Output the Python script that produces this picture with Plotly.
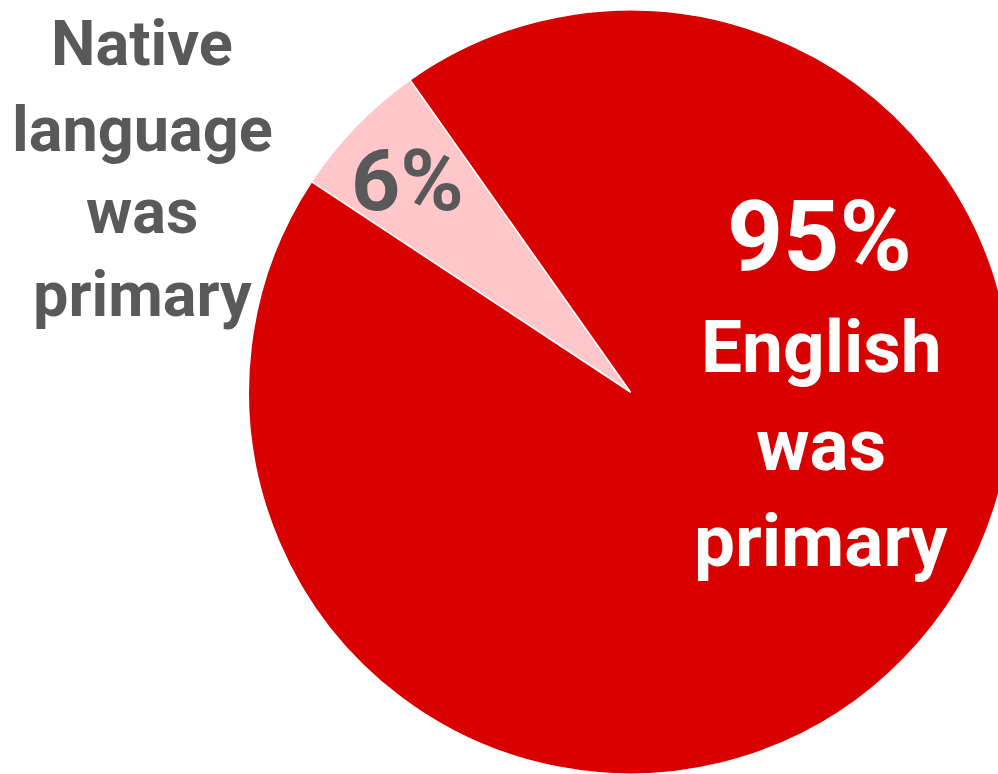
import plotly.graph_objects as go

# Data
categories = ["Native language was primary", "English was primary"]
values = [6, 95]
pct_labels = ["6%", "95%"]
colors = ["#FFC7CA", "#D90000"]

FONT = "Roboto, Liberation Sans, sans-serif"
W, H = 1030, 774

fig = go.Figure(
    go.Pie(
        labels=categories,
        values=values,
        sort=False,
        direction="clockwise",
        rotation=-56.6,
        marker=dict(colors=colors, line=dict(color="white", width=1.5)),
        textinfo="none",
        hoverinfo="label+value",
        showlegend=False,
        domain=dict(x=[0.241, 0.983], y=[0, 1]),
    )
)

def px(x, y):
    return x / W, 1 - y / H

ann = []
# left outside label (gray), one line per row
left_lines = ["Native", "language", "was", "primary"]
left_y = [34, 121, 204, 288]
for t, yy in zip(left_lines, left_y):
    x, y = px(142, yy)
    ann.append(dict(text=t, x=x, y=y, font=dict(size=63, color="#595959", family=FONT, weight="bold")))

# 6% in pink slice
x, y = px(407, 173)
ann.append(dict(text=pct_labels[0], x=x, y=y, font=dict(size=86, color="#595959", family=FONT, weight="bold")))

# 95% label
x, y = px(819, 229)
ann.append(dict(text=pct_labels[1], x=x, y=y, font=dict(size=98, color="white", family=FONT, weight="bold")))
right_lines = ["English", "was", "primary"]
right_y = [341, 441, 538]
for t, yy in zip(right_lines, right_y):
    x, y = px(821, yy)
    ann.append(dict(text=t, x=x, y=y, font=dict(size=73, color="white", family=FONT, weight="bold")))

for a in ann:
    a.update(xref="paper", yref="paper", xanchor="center", yanchor="middle", showarrow=False)

fig.update_layout(
    width=W,
    height=H,
    margin=dict(l=0, r=0, t=10, b=0),
    paper_bgcolor="white",
    plot_bgcolor="white",
    annotations=ann,
)

fig.write_html(
    "out.html",
    config={"displayModeBar": False},
    post_script="document.body.style.margin='0';document.body.style.overflow='hidden';document.documentElement.style.overflow='hidden';",
)
